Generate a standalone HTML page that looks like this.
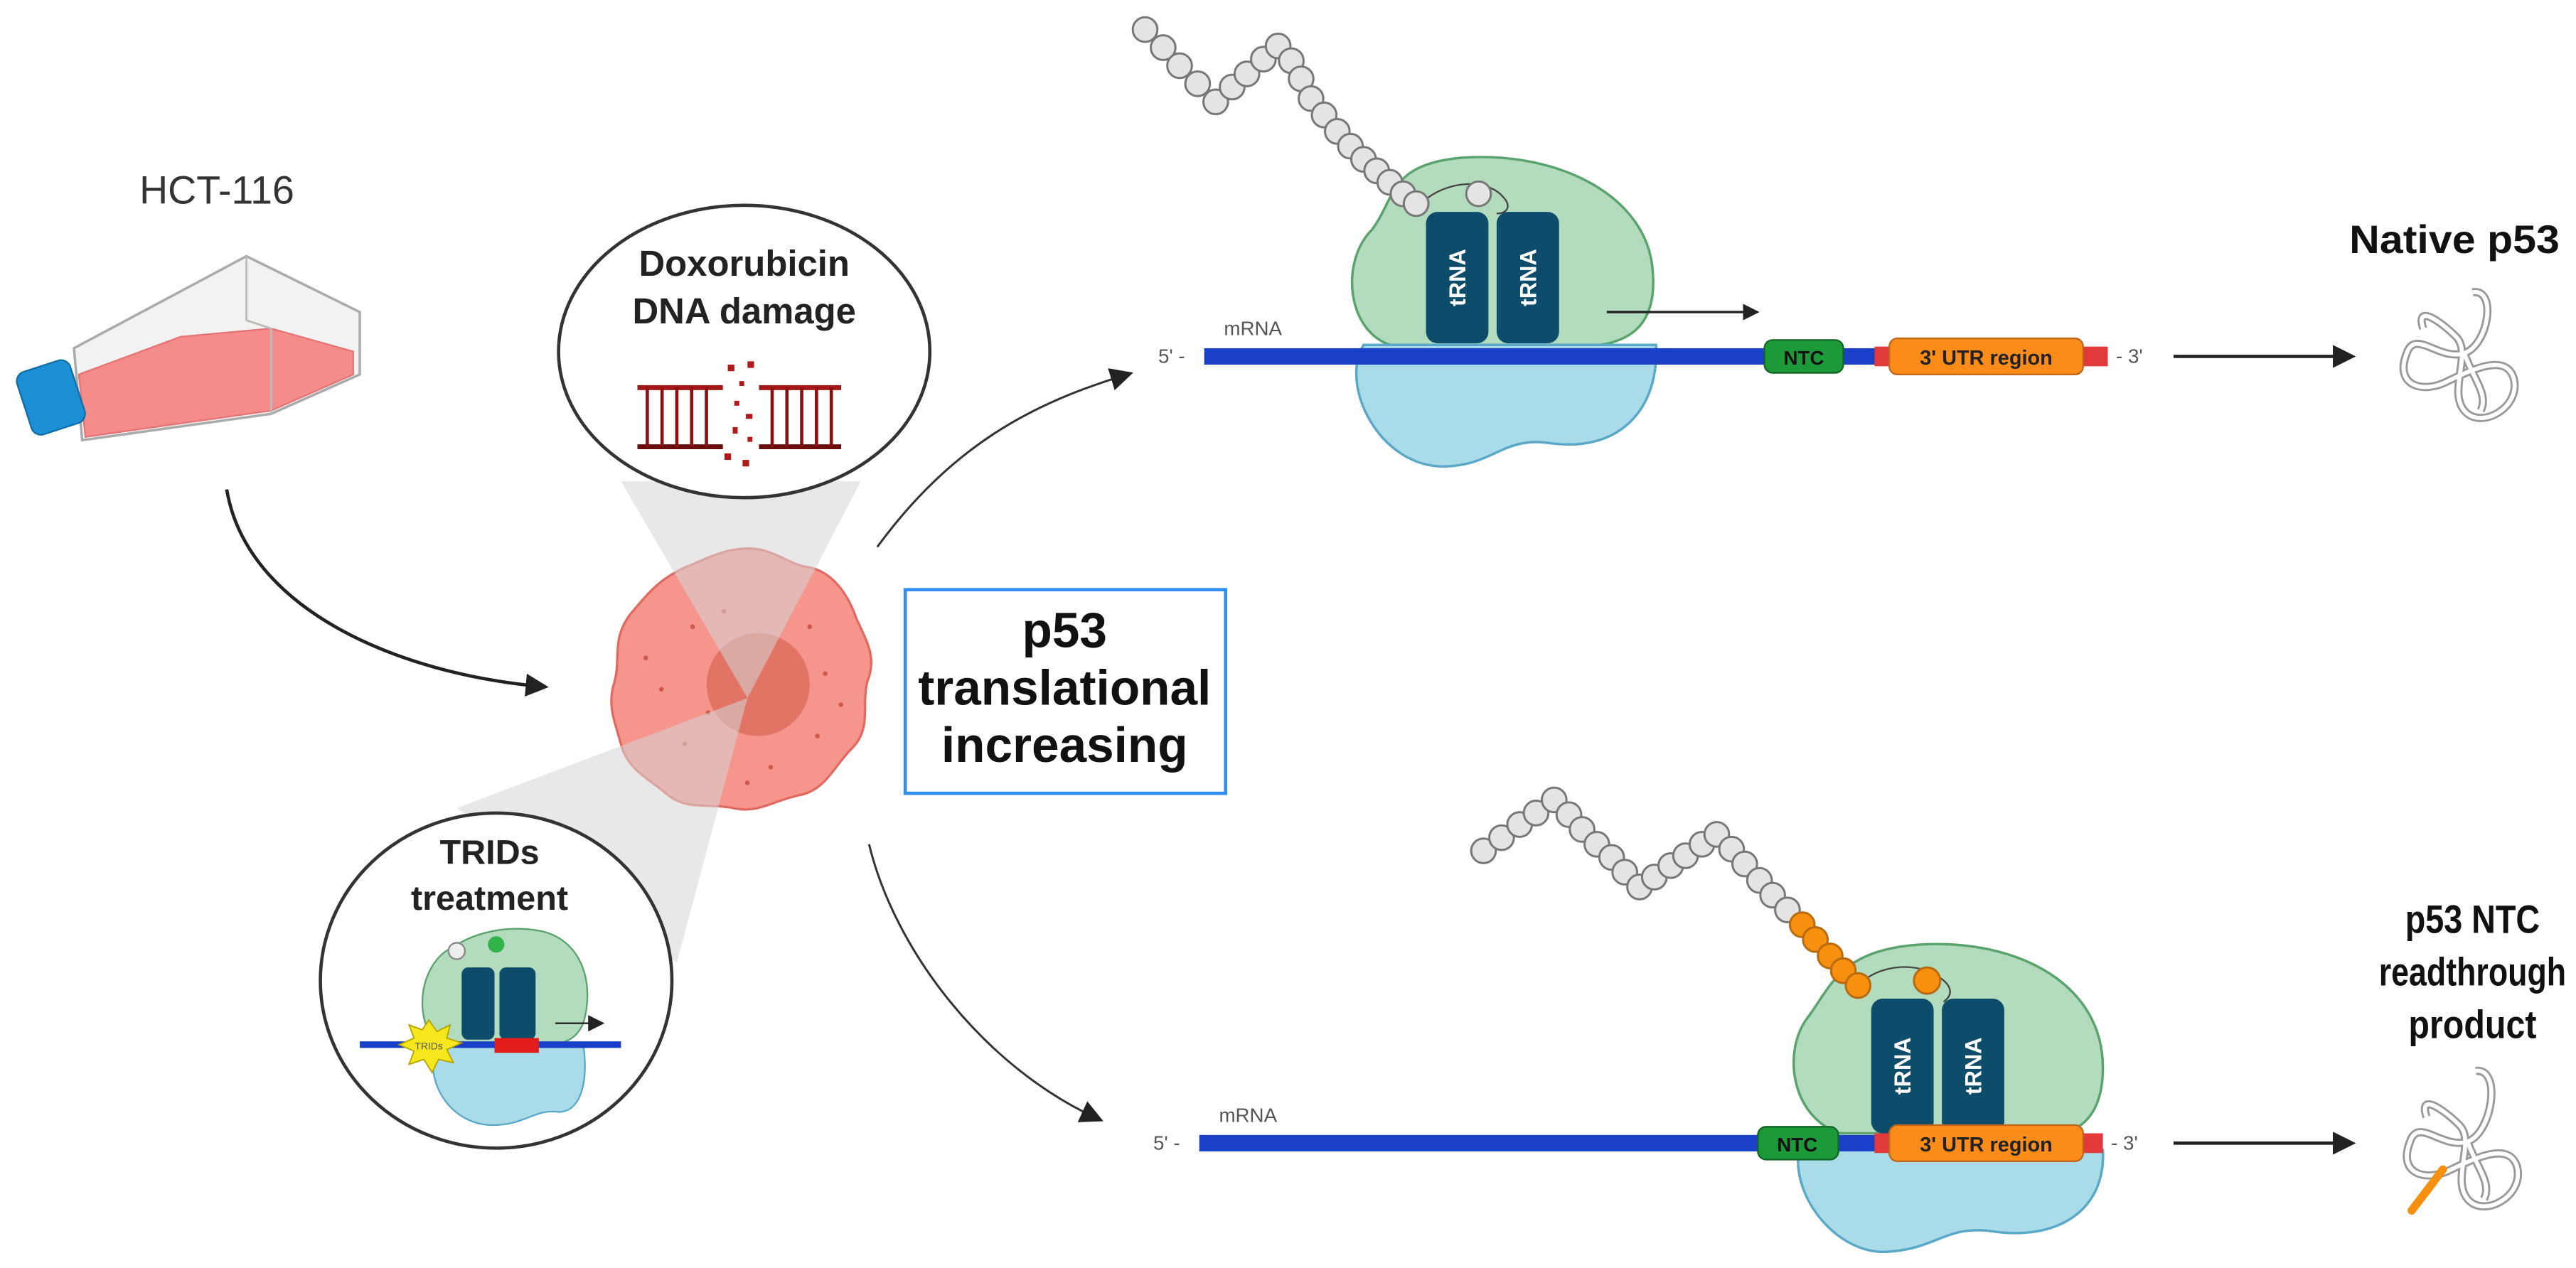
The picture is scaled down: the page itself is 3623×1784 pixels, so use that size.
<!DOCTYPE html>
<html><head><meta charset="utf-8"><style>
html,body{margin:0;padding:0;background:#fff;}
svg{display:block;}
text{font-family:"Liberation Sans",sans-serif;}
</style></head><body>
<svg width="3623" height="1784" viewBox="0 0 1568 772" preserveAspectRatio="none" xmlns="http://www.w3.org/2000/svg">
<defs>
<marker id="ah" markerWidth="10" markerHeight="10" refX="7" refY="5" orient="auto" markerUnits="userSpaceOnUse"><path d="M0,0 L10,5 L0,10 Z" fill="#222"/></marker>
<marker id="ah2" markerWidth="14" markerHeight="14" refX="10" refY="7" orient="auto" markerUnits="userSpaceOnUse"><path d="M0,0 L14,7 L0,14 Z" fill="#222"/></marker>
</defs>
<rect width="1568" height="772" fill="#fff"/>

<!-- HCT-116 -->
<text x="132" y="124" font-size="24" fill="#333" text-anchor="middle">HCT-116</text>
<!-- flask -->
<polygon points="45,212 150,156 219,190 219,228 165,252 50,268" fill="#f2f2f2" stroke="#aaa" stroke-width="1.5"/>
<polygon points="48,228 110,205 165,200 215,214 215,228 165,250 52,266" fill="#f58c8c" stroke="#e57373" stroke-width="1"/>
<polyline points="150,156 150,195 165,200 165,252" fill="none" stroke="#bbb" stroke-width="1.2"/>
<rect x="14" y="222" width="34" height="40" rx="6" fill="#1d8fd4" stroke="#0f6ea8" transform="rotate(-18 31 242)"/>

<!-- arrow HCT -> cell -->
<path d="M138,298 C150,370 240,410 330,418" fill="none" stroke="#222" stroke-width="2" marker-end="url(#ah2)"/>

<!-- cell -->
<g transform="translate(452,412) scale(0.95) translate(-452,-412)">
<path d="M452,330 C470,328 480,340 495,342 C510,345 520,360 525,375 C532,390 538,400 532,415 C528,430 535,445 522,458 C510,470 505,485 488,488 C470,492 462,500 445,496 C428,493 415,498 402,486 C388,475 378,470 374,455 C370,440 365,430 370,415 C374,400 368,388 380,372 C392,358 398,350 415,342 C430,336 438,331 452,330 Z" fill="#f5958c" stroke="#e06a5f" stroke-width="1.5"/>
<circle cx="462" cy="417" r="33" fill="#dd6f5e" opacity="0.85"/>
<g fill="#d0584b">
<circle cx="420" cy="380" r="1.5"/><circle cx="440" cy="370" r="1.5"/><circle cx="495" cy="380" r="1.5"/><circle cx="505" cy="410" r="1.5"/><circle cx="400" cy="420" r="1.5"/><circle cx="415" cy="455" r="1.5"/><circle cx="470" cy="470" r="1.5"/><circle cx="500" cy="450" r="1.5"/><circle cx="430" cy="435" r="1.5"/><circle cx="455" cy="480" r="1.5"/><circle cx="390" cy="400" r="1.5"/><circle cx="515" cy="430" r="1.5"/></g>
</g>

<!-- cones -->
<polygon points="378,293 524,293 455,425" fill="#d6d6d6" opacity="0.55"/>
<polygon points="278,492 412,586 455,425" fill="#d6d6d6" opacity="0.55"/>

<!-- Doxorubicin bubble -->
<ellipse cx="453" cy="214" rx="113" ry="89" fill="#fff" stroke="#333" stroke-width="2"/>
<text x="453" y="168" font-size="22" font-weight="bold" fill="#222" text-anchor="middle">Doxorubicin</text>
<text x="453" y="197" font-size="22" font-weight="bold" fill="#222" text-anchor="middle">DNA damage</text>
<g stroke="#a01818" stroke-width="3">
<line x1="388" y1="236" x2="440" y2="236"/><line x1="462" y1="236" x2="512" y2="236"/>
<line x1="388" y1="272" x2="440" y2="272" stroke="#6b0c0c"/><line x1="462" y1="272" x2="512" y2="272" stroke="#6b0c0c"/>
</g>
<g stroke="#8b1010" stroke-width="2">
<line x1="394" y1="236" x2="394" y2="272"/><line x1="403" y1="236" x2="403" y2="272"/><line x1="412" y1="236" x2="412" y2="272"/><line x1="421" y1="236" x2="421" y2="272"/><line x1="430" y1="236" x2="430" y2="272"/>
<line x1="470" y1="236" x2="470" y2="272"/><line x1="479" y1="236" x2="479" y2="272"/><line x1="488" y1="236" x2="488" y2="272"/><line x1="497" y1="236" x2="497" y2="272"/><line x1="506" y1="236" x2="506" y2="272"/>
</g>
<g fill="#b01a1a"><rect x="443" y="222" width="4" height="4"/><rect x="455" y="220" width="4" height="4"/><rect x="450" y="232" width="3" height="3"/><rect x="447" y="244" width="3" height="3"/><rect x="454" y="252" width="4" height="3"/><rect x="446" y="260" width="3" height="4"/><rect x="455" y="266" width="3" height="3"/><rect x="441" y="276" width="4" height="4"/><rect x="452" y="280" width="4" height="4"/></g>

<!-- TRIDs bubble -->
<ellipse cx="302" cy="597" rx="107" ry="102" fill="#fff" stroke="#333" stroke-width="2"/>
<text x="298" y="526" font-size="21" font-weight="bold" fill="#222" text-anchor="middle">TRIDs</text>
<text x="298" y="554" font-size="21" font-weight="bold" fill="#222" text-anchor="middle">treatment</text>
<g transform="translate(0,-5)">
<path d="M265,640 C250,620 258,590 275,582 C290,572 310,568 330,572 C355,578 362,605 355,628 C350,640 340,641 330,641 Z" fill="#b3dcbf" stroke="#5aa36d"/>
<path d="M265,641 C258,665 275,690 300,690 C320,690 325,680 340,682 C355,682 358,660 355,641 Z" fill="#a9dce8" stroke="#5aa8c8"/>
<rect x="281" y="594" width="20" height="44" rx="4" fill="#0d4d6b"/>
<rect x="304" y="594" width="22" height="44" rx="4" fill="#0d4d6b"/>
<circle cx="278" cy="584" r="5" fill="#eee" stroke="#888"/>
<circle cx="302" cy="580" r="5" fill="#2fb34a"/>
<line x1="219" y1="641" x2="378" y2="641" stroke="#1a3fc8" stroke-width="4"/>
<rect x="301" y="637" width="27" height="9" fill="#e21b1b"/>
<polygon points="261,626 266,633 274,629 272,637 281,640 272,644 276,652 267,650 263,658 258,650 249,653 252,645 243,641 252,637 249,629 257,632" fill="#f6e61c" stroke="#b3a400" stroke-width="0.8"/>
<text x="261" y="644" font-size="6" fill="#555" text-anchor="middle">TRIDs</text>
<line x1="338" y1="628" x2="365" y2="628" stroke="#222" stroke-width="1" marker-end="url(#ah)"/>
</g>

<!-- p53 box -->
<rect x="551" y="359" width="195" height="124" fill="#fff" stroke="#2f8ef0" stroke-width="2"/>
<text x="648" y="394" font-size="30" font-weight="bold" fill="#111" text-anchor="middle">p53</text>
<text x="648" y="429" font-size="30" font-weight="bold" fill="#111" text-anchor="middle">translational</text>
<text x="648" y="464" font-size="30" font-weight="bold" fill="#111" text-anchor="middle">increasing</text>

<!-- branch arrows -->
<path d="M534,333 C580,270 630,245 686,228" fill="none" stroke="#333" stroke-width="1.3" marker-end="url(#ah2)"/>
<path d="M529,514 C545,580 600,650 668,681" fill="none" stroke="#333" stroke-width="1.3" marker-end="url(#ah2)"/>

<!-- ===== TOP translation ===== -->
<path d="M850,211 C820,205 815,160 835,140 C850,120 845,100 890,96 C950,92 1003,120 1006,165 C1009,200 990,211 960,211 Z" fill="#b3dcbf" stroke="#5aa36d" stroke-width="1.5"/>
<path d="M830,210 C815,235 840,285 880,284 C910,283 915,265 945,270 C985,275 1010,250 1008,210 Z" fill="#a9dce8" stroke="#5aa8c8" stroke-width="1.5"/>
<rect x="868" y="129" width="38" height="80" rx="7" fill="#0d4d6b"/>
<rect x="911" y="129" width="38" height="80" rx="7" fill="#0d4d6b"/>
<text transform="translate(892,169) rotate(-90)" font-size="14" font-weight="bold" fill="#fff" text-anchor="middle">tRNA</text>
<text transform="translate(935,169) rotate(-90)" font-size="14" font-weight="bold" fill="#fff" text-anchor="middle">tRNA</text>
<path d="M866,123 C880,110 905,108 915,120 C920,125 918,130 911,130" fill="none" stroke="#444" stroke-width="1"/>
<g fill="#e4e4e4" stroke="#777" stroke-width="1.3">
<circle cx="697" cy="18" r="7.5"/><circle cx="708" cy="29" r="7.5"/><circle cx="718" cy="40" r="7.5"/><circle cx="729" cy="51" r="7.5"/><circle cx="740" cy="62" r="7.5"/>
<circle cx="750" cy="53" r="7.5"/><circle cx="759" cy="45" r="7.5"/><circle cx="769" cy="36" r="7.5"/><circle cx="778" cy="28" r="7.5"/>
<circle cx="786" cy="37" r="7.5"/><circle cx="792" cy="48" r="7.5"/><circle cx="798" cy="60" r="7.5"/><circle cx="806" cy="70" r="7.5"/><circle cx="814" cy="80" r="7.5"/><circle cx="822" cy="89" r="7.5"/><circle cx="830" cy="97" r="7.5"/><circle cx="838" cy="104" r="7.5"/><circle cx="846" cy="111" r="7.5"/><circle cx="854" cy="118" r="7.5"/><circle cx="862" cy="124" r="7.5"/>
<circle cx="900" cy="118" r="7.5"/>
</g>
<line x1="978" y1="190" x2="1068" y2="190" stroke="#222" stroke-width="1.5" marker-end="url(#ah)"/>
<rect x="733" y="212" width="550" height="10" fill="#1a3fc8"/>
<rect x="1141" y="211" width="142" height="12" fill="#e23a3a"/>
<rect x="1074" y="207" width="48" height="20" rx="5" fill="#1c9a3a" stroke="#116626"/>
<text x="1098" y="222" font-size="12" font-weight="bold" fill="#111" text-anchor="middle">NTC</text>
<rect x="1150" y="206" width="118" height="22" rx="5" fill="#fb8c1a" stroke="#c0661a"/>
<text x="1209" y="222" font-size="12.5" font-weight="bold" fill="#222" text-anchor="middle">3' UTR region</text>
<text x="705" y="221" font-size="12" fill="#555">5' -</text>
<text x="1288" y="221" font-size="12" fill="#555">- 3'</text>
<text x="745" y="204" font-size="12" fill="#555">mRNA</text>
<line x1="1323" y1="217" x2="1430" y2="217" stroke="#222" stroke-width="2" marker-end="url(#ah2)"/>
<text x="1494" y="154" font-size="24" font-weight="bold" fill="#111" text-anchor="middle" textLength="128" lengthAdjust="spacingAndGlyphs">Native p53</text>
<g fill="none" transform="translate(-5,0)">
<path d="M1510,178 C1525,175 1520,210 1505,215 C1490,220 1475,200 1470,215 C1462,235 1480,240 1495,232 C1510,225 1530,215 1535,230 C1540,248 1515,262 1505,250 C1495,238 1510,215 1500,205 C1490,195 1475,185 1480,200 M1505,215 C1510,230 1520,240 1515,250" stroke="#999" stroke-width="5"/>
<path d="M1510,178 C1525,175 1520,210 1505,215 C1490,220 1475,200 1470,215 C1462,235 1480,240 1495,232 C1510,225 1530,215 1535,230 C1540,248 1515,262 1505,250 C1495,238 1510,215 1500,205 C1490,195 1475,185 1480,200 M1505,215 C1510,230 1520,240 1515,250" stroke="#fff" stroke-width="2.5"/>
</g>

<!-- ===== BOTTOM translation ===== -->
<path d="M1120,690 C1090,680 1085,640 1100,620 C1115,600 1120,578 1170,575 C1230,572 1280,600 1280,650 C1280,680 1265,690 1250,690 Z" fill="#b3dcbf" stroke="#5aa36d" stroke-width="1.5"/>
<path d="M1095,700 C1090,730 1120,765 1150,762 C1180,760 1185,745 1215,750 C1255,755 1282,735 1280,700 Z" fill="#a9dce8" stroke="#5aa8c8" stroke-width="1.5"/>
<rect x="1139" y="608" width="38" height="82" rx="7" fill="#0d4d6b"/>
<rect x="1182" y="608" width="38" height="82" rx="7" fill="#0d4d6b"/>
<text transform="translate(1163,649) rotate(-90)" font-size="14" font-weight="bold" fill="#fff" text-anchor="middle">tRNA</text>
<text transform="translate(1206,649) rotate(-90)" font-size="14" font-weight="bold" fill="#fff" text-anchor="middle">tRNA</text>
<path d="M1131,600 C1140,590 1160,585 1175,592 C1188,598 1190,605 1183,610" fill="none" stroke="#444" stroke-width="1"/>
<g fill="#e4e4e4" stroke="#777" stroke-width="1.3">
<circle cx="903" cy="518" r="7.5"/><circle cx="914" cy="510" r="7.5"/><circle cx="925" cy="502" r="7.5"/><circle cx="935" cy="495" r="7.5"/><circle cx="946" cy="487" r="7.5"/>
<circle cx="955" cy="496" r="7.5"/><circle cx="963" cy="505" r="7.5"/><circle cx="972" cy="514" r="7.5"/><circle cx="981" cy="522" r="7.5"/><circle cx="989" cy="531" r="7.5"/><circle cx="998" cy="540" r="7.5"/>
<circle cx="1007" cy="534" r="7.5"/><circle cx="1017" cy="527" r="7.5"/><circle cx="1026" cy="521" r="7.5"/><circle cx="1036" cy="514" r="7.5"/><circle cx="1045" cy="508" r="7.5"/>
<circle cx="1054" cy="517" r="7.5"/><circle cx="1062" cy="526" r="7.5"/><circle cx="1071" cy="536" r="7.5"/><circle cx="1079" cy="545" r="7.5"/><circle cx="1088" cy="554" r="7.5"/>
</g>
<g fill="#f7900f" stroke="#b86a10" stroke-width="1.3">
<circle cx="1097" cy="563" r="7.5"/><circle cx="1105" cy="572" r="7.5"/><circle cx="1114" cy="582" r="7.5"/><circle cx="1122" cy="591" r="7.5"/><circle cx="1131" cy="600" r="7.5"/>
<circle cx="1173" cy="597" r="8"/>
</g>
<rect x="730" y="691" width="550" height="10" fill="#1a3fc8"/>
<rect x="1141" y="690" width="139" height="12" fill="#e23a3a"/>
<rect x="1070" y="686" width="49" height="20" rx="5" fill="#1c9a3a" stroke="#116626"/>
<text x="1094" y="701" font-size="12" font-weight="bold" fill="#111" text-anchor="middle">NTC</text>
<rect x="1150" y="685" width="118" height="22" rx="5" fill="#fb8c1a" stroke="#c0661a"/>
<text x="1209" y="701" font-size="12.5" font-weight="bold" fill="#222" text-anchor="middle">3' UTR region</text>
<text x="702" y="700" font-size="12" fill="#555">5' -</text>
<text x="1285" y="700" font-size="12" fill="#555">- 3'</text>
<text x="742" y="683" font-size="12" fill="#555">mRNA</text>
<line x1="1323" y1="696" x2="1430" y2="696" stroke="#222" stroke-width="2" marker-end="url(#ah2)"/>
<text x="1505" y="568" font-size="24" font-weight="bold" fill="#111" text-anchor="middle" textLength="82" lengthAdjust="spacingAndGlyphs">p53 NTC</text>
<text x="1505" y="600" font-size="24" font-weight="bold" fill="#111" text-anchor="middle" textLength="114" lengthAdjust="spacingAndGlyphs">readthrough</text>
<text x="1505" y="632" font-size="24" font-weight="bold" fill="#111" text-anchor="middle" textLength="78" lengthAdjust="spacingAndGlyphs">product</text>
<g fill="none" transform="translate(-5,0)">
<path d="M1512,652 C1528,650 1522,690 1507,695 C1492,700 1477,680 1472,695 C1464,715 1482,720 1497,712 C1512,705 1532,695 1537,710 C1542,728 1517,742 1507,730 C1497,718 1512,695 1502,685 C1492,675 1477,665 1482,680 M1507,695 C1512,710 1522,720 1517,730" stroke="#999" stroke-width="5"/>
<path d="M1512,652 C1528,650 1522,690 1507,695 C1492,700 1477,680 1472,695 C1464,715 1482,720 1497,712 C1512,705 1532,695 1537,710 C1542,728 1517,742 1507,730 C1497,718 1512,695 1502,685 C1492,675 1477,665 1482,680 M1507,695 C1512,710 1522,720 1517,730" stroke="#fff" stroke-width="2.5"/>
</g>
<line x1="1468" y1="737" x2="1487" y2="712" stroke="#f7900f" stroke-width="5" stroke-linecap="round"/>
</svg>
</body></html>
